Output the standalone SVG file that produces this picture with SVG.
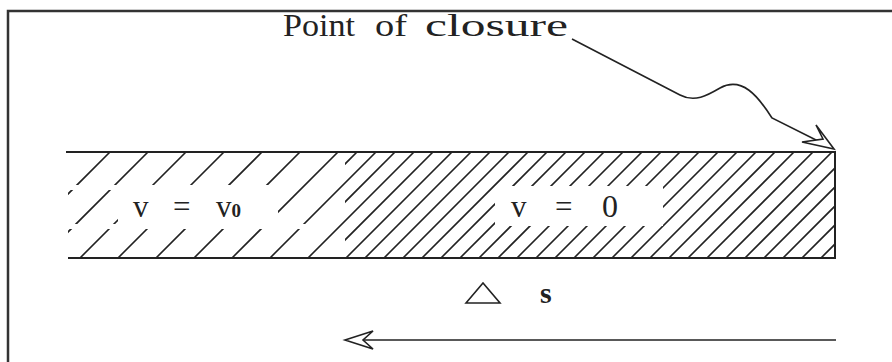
<svg xmlns="http://www.w3.org/2000/svg" width="892" height="362" viewBox="0 0 892 362">
<style>
.frame{stroke:#333;stroke-width:2.5;fill:none}
.edge{stroke:#222;stroke-width:2;fill:none}
.hatch{stroke:#222;stroke-width:1.6}
.lbl{font-family:"Liberation Serif",serif;fill:#222}
.arrow{stroke:#222;stroke-width:1.6;fill:none}
.head{stroke:#222;stroke-width:1.6;fill:#fff;stroke-linejoin:miter}
</style>
<defs>
<clipPath id="bar"><rect x="68" y="152" width="767" height="106"/></clipPath>
<clipPath id="dense"><rect x="345" y="152" width="490" height="106"/></clipPath>
</defs>
<rect width="892" height="362" fill="#fff"/>
<g id="frame">
<path class="frame" d="M8,362 V11 H892"/>
</g>
<g id="bar-hatch">
<g clip-path="url(#bar)" class="hatch">
<path d="M110,152 l-106,106 M148,152 l-106,106 M186,152 l-106,106 M224,152 l-106,106 M262,152 l-106,106 M300,152 l-106,106 M338,152 l-106,106 M376,152 l-106,106 M414,152 l-106,106 M452,152 l-106,106 M490,152 l-106,106 M528,152 l-106,106 M566,152 l-106,106 M604,152 l-106,106 M642,152 l-106,106 M680,152 l-106,106 M718,152 l-106,106 M756,152 l-106,106 M794,152 l-106,106 M832,152 l-106,106 M870,152 l-106,106 M908,152 l-106,106 M946,152 l-106,106"/>
</g>
<g clip-path="url(#dense)" class="hatch">
<path d="M357,152 l-106,106 M395,152 l-106,106 M433,152 l-106,106 M471,152 l-106,106 M509,152 l-106,106 M547,152 l-106,106 M585,152 l-106,106 M623,152 l-106,106 M661,152 l-106,106 M699,152 l-106,106 M737,152 l-106,106 M775,152 l-106,106 M813,152 l-106,106 M851,152 l-106,106 M889,152 l-106,106 M927,152 l-106,106"/>
</g>
<rect x="68" y="185" width="212" height="5" fill="#fff"/>
<rect x="68" y="224" width="240" height="5" fill="#fff"/>
<rect x="118" y="186" width="160" height="42" fill="#fff"/>
<rect x="495" y="186" width="168" height="40" fill="#fff"/>
</g>
<g id="bar">
<path class="edge" d="M66,152 H835 V258 H68"/>
</g>
<g id="label-v0">
<text class="lbl" x="133" y="217" font-size="31">v</text>
<text class="lbl" x="173" y="217" font-size="31">=</text>
<text class="lbl" x="216" y="217" font-size="31">v<tspan font-size="19" font-weight="bold">0</tspan></text>
</g>
<g id="label-zero">
<text class="lbl" x="511" y="217" font-size="31">v</text>
<text class="lbl" x="555" y="217" font-size="31">=</text>
<text class="lbl" x="602" y="217" font-size="32">0</text>
</g>
<g id="label-closure" class="lbl" font-size="31">
<text x="283" y="36" textLength="72" lengthAdjust="spacingAndGlyphs">Point</text>
<text x="375" y="36" textLength="32" lengthAdjust="spacingAndGlyphs">of</text>
<text x="425" y="36" textLength="143" lengthAdjust="spacingAndGlyphs">closure</text>
</g>
<g id="label-ds">
<polygon points="466,303 483,283 500,303" fill="none" stroke="#222" stroke-width="1.6"/>
<text class="lbl" x="540" y="303" font-size="30" font-weight="bold">s</text>
</g>
<g id="connectors">
<path class="arrow" d="M572,39 L680,95 C695,103 708,95 720,88 C742,76 758,96 772,118 L828,146"/>
<polygon class="head" points="834,149 816,125 823,139 802,142"/>
<path class="arrow" d="M836,340 H362"/>
<polygon class="head" points="345,340 373,331 363,340 373,349"/>
</g>
</svg>
